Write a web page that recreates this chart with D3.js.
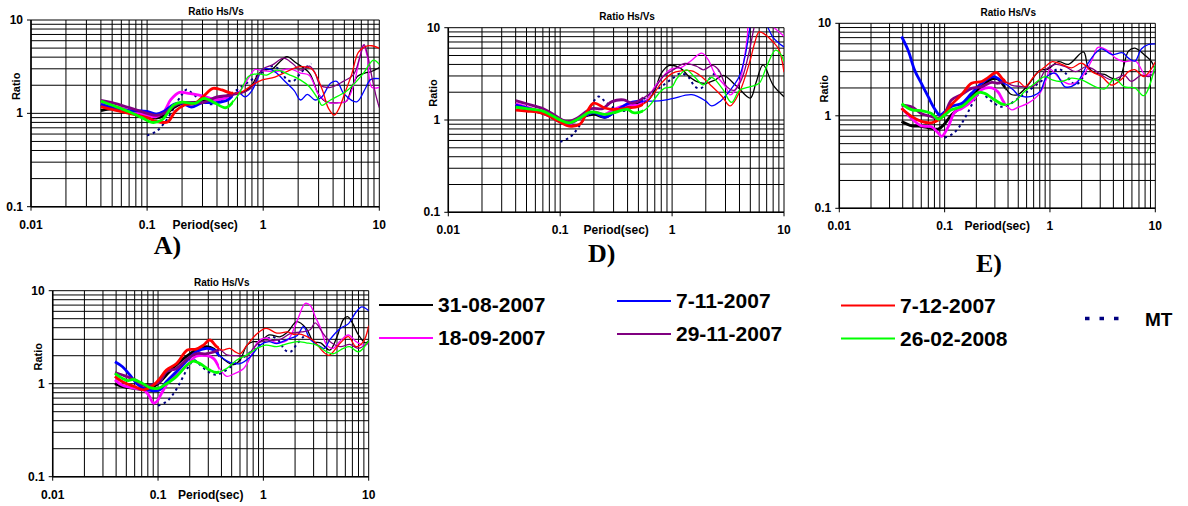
<!DOCTYPE html>
<html>
<head>
<meta charset="utf-8">
<script src="https://cdn.jsdelivr.net/npm/d3@7"></script>
<style>
  body { margin: 0; background: #fff; }
  svg { display: block; }
  text { font-family: "Liberation Sans", Arial, sans-serif; font-weight: bold; fill: #000; }
</style>
</head>
<body>
<svg id="chart" width="1188" height="506"></svg>
<script>
// ---- data: [period (sec), ratio Hs/Vs] ----
const seriesNames = ["31-08-2007", "18-09-2007", "7-11-2007", "29-11-2007", "7-12-2007", "26-02-2008"];
const seriesColors = ["#000000", "#ff00ff", "#0000ff", "#800080", "#ff0000", "#00ff00"];
const xTickLabels = ["0.01", "0.1", "1", "10"];
const yTickLabels = ["0.1", "1", "10"];

const mtValues = [[0.1,0.58],[0.12,0.64],[0.14,0.78],[0.16,1.0],[0.18,1.3],[0.2,1.6],[0.22,1.8],[0.25,1.6],[0.3,1.35],[0.35,1.25],[0.4,1.3],[0.5,1.55],[0.6,1.8],[0.8,2.3],[1.0,2.8],[1.2,3.2],[1.4,2.9],[1.6,2.3],[1.8,2.2],[2.1,2.7],[2.4,3.2],[2.6,3.4]];

// panel A
const A_black = [[0.04,1.07],[0.05,1.12],[0.065,1.05],[0.08,0.98],[0.1,0.93],[0.12,0.89],[0.14,0.95],[0.17,1.15],[0.2,1.28],[0.25,1.3],[0.3,1.35],[0.4,1.45],[0.5,1.55],[0.6,1.65],[0.7,1.72],[0.8,2.0],[0.9,2.6],[1.0,2.9],[1.2,3.0],[1.4,3.6],[1.6,4.05],[1.9,3.5],[2.5,2.7],[3.0,1.6],[3.5,1.33],[4.5,1.3],[5.2,1.35],[5.8,1.9],[6.5,2.5],[7.5,2.7],[8.5,2.8],[10,3.1]];
const A_magenta = [[0.04,1.3],[0.05,1.2],[0.07,1.08],[0.1,0.95],[0.12,0.92],[0.14,1.05],[0.16,1.4],[0.19,1.68],[0.22,1.65],[0.28,1.57],[0.35,1.45],[0.4,1.4],[0.5,1.5],[0.63,1.75],[0.75,2.4],[0.85,2.95],[1.0,2.85],[1.3,2.8],[1.7,3.0],[2.1,2.7],[2.5,2.55],[3.0,1.6],[3.7,1.3],[4.5,1.3],[5.2,1.35],[6.0,2.0],[6.8,4.0],[7.3,5.4],[7.9,4.0],[8.6,1.9],[10,1.9]];
const A_blue = [[0.04,1.25],[0.05,1.15],[0.07,1.07],[0.09,1.06],[0.1,1.05],[0.12,0.98],[0.14,1.05],[0.17,1.25],[0.2,1.28],[0.24,1.17],[0.3,1.3],[0.4,1.3],[0.5,1.4],[0.6,1.7],[0.7,1.5],[0.8,1.75],[0.9,2.4],[1.0,3.0],[1.2,2.9],[1.6,2.1],[1.85,1.75],[2.1,1.39],[2.4,1.6],[2.8,1.39],[3.2,1.5],[3.8,2.1],[4.3,2.2],[5.0,1.6],[6.4,1.33],[7.5,1.8],[8.4,2.3],[10,2.35]];
const A_purple = [[0.04,1.38],[0.05,1.3],[0.07,1.15],[0.1,1.0],[0.12,0.95],[0.14,1.0],[0.17,1.2],[0.2,1.3],[0.25,1.3],[0.3,1.3],[0.4,1.5],[0.5,1.55],[0.6,1.6],[0.7,1.7],[0.8,1.9],[0.9,2.5],[1.0,3.0],[1.2,3.3],[1.5,3.9],[1.8,3.4],[2.1,2.9],[2.5,3.2],[2.8,2.7],[3.1,2.0],[3.8,1.9],[4.9,2.2],[6.0,2.6],[6.8,4.0],[7.4,5.45],[7.9,4.3],[8.6,2.5],[9.3,1.6],[10,1.15]];
const A_red = [[0.04,1.18],[0.05,1.1],[0.07,1.0],[0.1,0.9],[0.12,0.82],[0.15,0.81],[0.175,1.05],[0.21,1.23],[0.26,1.28],[0.31,1.55],[0.37,1.85],[0.44,1.78],[0.53,1.65],[0.66,1.71],[0.8,2.0],[0.97,2.27],[1.26,2.45],[1.7,2.9],[2.0,3.15],[2.6,3.0],[3.2,1.85],[3.65,1.13],[4.1,0.96],[4.5,1.13],[5.1,1.71],[5.8,2.65],[6.6,4.5],[7.6,5.2],[8.6,5.3],[10,4.97]];
const A_green = [[0.04,1.35],[0.05,1.22],[0.07,1.04],[0.09,0.9],[0.11,0.8],[0.134,0.85],[0.17,1.23],[0.2,1.32],[0.26,1.28],[0.31,1.45],[0.38,1.3],[0.48,1.15],[0.61,1.57],[0.75,2.5],[0.9,2.65],[1.07,2.57],[1.31,2.9],[1.7,2.57],[2.1,2.27],[2.5,1.93],[3.0,1.39],[3.2,1.22],[3.8,1.39],[5.3,1.76],[7.3,2.69],[8.9,3.72],[10,3.35]];

// panel D
const D_black = [[0.04,1.4],[0.05,1.32],[0.07,1.18],[0.09,1.05],[0.1,1.0],[0.12,0.92],[0.15,1.05],[0.2,1.15],[0.25,1.07],[0.3,1.2],[0.4,1.4],[0.5,1.5],[0.6,1.6],[0.7,2.1],[0.8,3.2],[0.95,3.9],[1.2,3.6],[1.4,3.0],[1.67,2.6],[2.0,2.5],[2.4,2.7],[2.87,3.05],[3.8,2.3],[5.0,1.73],[5.6,2.5],[6.5,3.95],[8.0,2.39],[10,1.79]];
const D_magenta = [[0.04,1.5],[0.05,1.38],[0.07,1.22],[0.1,0.96],[0.12,0.9],[0.15,1.05],[0.2,1.22],[0.25,1.15],[0.3,1.3],[0.4,1.45],[0.5,1.45],[0.6,1.7],[0.7,2.3],[0.8,2.8],[0.9,3.3],[1.0,3.6],[1.2,3.7],[1.45,4.3],[1.84,5.3],[2.1,4.5],[2.4,3.2],[3.0,2.3],[3.3,1.87],[4.0,2.6],[4.4,4.5],[4.7,8],[5.0,14],[6.5,14],[7.5,11],[8.3,9.8],[10,8.1]];
const D_blue = [[0.04,1.45],[0.05,1.35],[0.07,1.2],[0.1,0.96],[0.12,0.92],[0.15,1.05],[0.2,1.2],[0.25,1.07],[0.3,1.2],[0.4,1.5],[0.5,1.6],[0.6,1.6],[0.8,1.62],[1.0,1.7],[1.5,1.88],[2.0,1.6],[2.25,1.42],[2.7,1.6],[3.2,2.0],[4.0,3.0],[4.5,5.0],[4.9,9.0],[5.2,13],[6.5,13],[7.2,10],[8.0,7.8],[9.0,6.8],[10,6.2]];
const D_purple = [[0.04,1.62],[0.05,1.5],[0.07,1.33],[0.09,1.12],[0.115,0.96],[0.14,1.04],[0.19,1.33],[0.24,1.33],[0.29,1.58],[0.37,1.65],[0.44,1.52],[0.55,1.72],[0.68,2.1],[0.84,3.0],[1.02,3.48],[1.3,4.1],[1.67,3.8],[1.9,3.5],[2.3,3.9],[2.6,3.5],[3.08,2.3],[3.6,2.1],[4.2,2.8],[4.8,5],[5.3,9],[5.7,14]];
const D_red = [[0.04,1.28],[0.05,1.25],[0.07,1.18],[0.1,0.95],[0.12,0.86],[0.15,0.9],[0.175,1.25],[0.2,1.52],[0.25,1.35],[0.3,1.3],[0.4,1.35],[0.5,1.4],[0.6,1.6],[0.7,2.0],[0.8,2.5],[1.0,3.2],[1.2,3.4],[1.5,3.4],[1.8,3.0],[2.2,2.4],[2.8,1.8],[3.3,1.42],[4.0,2.0],[5.0,4.5],[5.5,7.0],[6.0,9.0],[7.0,8.2],[8.0,7.0],[9.0,5.8],[10,3.3]];
const D_green = [[0.04,1.38],[0.05,1.33],[0.07,1.25],[0.1,1.0],[0.12,0.93],[0.15,1.05],[0.18,1.2],[0.2,1.22],[0.25,1.15],[0.3,1.2],[0.4,1.3],[0.45,1.2],[0.55,1.25],[0.65,1.5],[0.75,1.9],[0.85,2.2],[1.0,2.3],[1.1,2.8],[1.34,3.5],[1.6,2.9],[1.9,2.4],[2.25,2.9],[2.8,2.2],[3.4,1.55],[4.0,2.1],[5.0,2.3],[6.0,2.5],[7.0,3.8],[8.4,5.7],[9.3,5.2],[10,4.3]];

// panel E
const E_black = [[0.039,0.87],[0.049,0.78],[0.06,0.77],[0.075,0.73],[0.087,0.72],[0.1,0.82],[0.116,1.02],[0.145,1.26],[0.18,1.6],[0.225,2.07],[0.28,2.5],[0.32,2.5],[0.37,2.07],[0.43,1.7],[0.5,1.7],[0.62,2.15],[0.8,3.1],[0.96,3.2],[1.2,3.85],[1.5,3.6],[2.08,4.9],[2.3,3.4],[2.68,2.9],[3.3,2.8],[3.86,2.55],[4.5,2.45],[5.56,5.0],[6.4,5.4],[8.0,4.5],[9.2,3.85],[10,3.1]];
const E_magenta = [[0.039,1.22],[0.049,0.93],[0.06,0.78],[0.075,0.76],[0.087,0.65],[0.094,0.6],[0.108,0.76],[0.125,1.1],[0.145,1.2],[0.18,1.43],[0.225,1.92],[0.28,2.0],[0.32,1.82],[0.37,1.37],[0.434,1.16],[0.5,1.24],[0.62,1.37],[0.8,1.75],[0.93,2.55],[1.0,3.2],[1.29,2.4],[1.6,2.2],[2.0,2.6],[2.5,4.0],[2.86,5.5],[3.6,5.0],[4.2,4.2],[5.0,3.85],[6.5,3.9],[8.2,2.7],[10,3.3]];
const E_blue = [[0.039,7.2],[0.045,5.1],[0.052,3.1],[0.06,2.25],[0.07,1.6],[0.08,1.2],[0.09,1.02],[0.1,1.1],[0.116,1.26],[0.145,1.36],[0.18,1.75],[0.225,2.25],[0.29,2.65],[0.36,2.3],[0.45,1.9],[0.5,1.68],[0.62,1.6],[0.8,1.82],[0.93,2.65],[1.13,2.88],[1.39,2.06],[1.75,2.2],[2.3,3.7],[2.68,4.7],[3.1,5.3],[3.86,4.6],[4.9,4.8],[5.56,4.2],[6.4,3.9],[7.4,5.3],[8.6,5.9],[10,6.0]];
const E_purple = [[0.039,1.3],[0.049,1.24],[0.06,1.06],[0.075,0.98],[0.087,0.94],[0.1,1.06],[0.116,1.48],[0.145,1.7],[0.18,1.98],[0.225,2.07],[0.28,2.3],[0.32,2.25],[0.37,2.35],[0.43,2.15],[0.54,2.07],[0.68,2.07],[0.8,2.44],[0.9,3.1],[1.13,3.6],[1.4,3.4],[1.75,3.0],[2.2,3.4],[2.5,3.25],[3.1,2.75],[3.86,2.44],[4.5,2.6],[5.1,2.75],[5.9,2.35],[7.4,2.75],[8.6,2.65],[10,3.0]];
const E_red = [[0.039,1.2],[0.049,0.98],[0.06,0.87],[0.075,0.84],[0.087,0.9],[0.1,1.04],[0.116,1.32],[0.145,1.7],[0.18,2.25],[0.225,2.35],[0.26,2.6],[0.31,2.95],[0.35,2.55],[0.4,2.25],[0.5,2.35],[0.58,2.07],[0.72,2.75],[0.9,3.39],[1.05,3.85],[1.29,3.6],[1.6,3.3],[2.0,3.7],[2.5,3.0],[3.1,2.65],[3.86,2.15],[4.9,2.55],[5.56,3.0],[6.4,3.15],[7.8,2.66],[10,3.8]];
const E_green = [[0.039,1.35],[0.049,1.16],[0.06,1.14],[0.075,1.06],[0.087,0.92],[0.1,1.02],[0.116,1.16],[0.145,1.26],[0.18,1.55],[0.21,1.78],[0.24,1.75],[0.3,1.48],[0.37,1.32],[0.46,1.42],[0.58,1.85],[0.72,2.25],[0.9,2.65],[1.05,2.44],[1.29,2.35],[1.6,2.55],[2.0,2.44],[2.68,2.07],[3.3,1.95],[4.1,2.5],[5.1,2.05],[6.4,2.0],[7.8,1.65],[10,3.5]];

// lower panel
const B_black = [[0.039,1.0],[0.046,0.93],[0.06,0.89],[0.073,0.87],[0.09,0.93],[0.1,1.0],[0.12,1.24],[0.15,1.6],[0.19,2.0],[0.23,2.3],[0.29,2.5],[0.34,2.35],[0.39,1.97],[0.45,1.72],[0.52,1.6],[0.6,1.8],[0.7,2.6],[0.8,2.83],[0.93,2.83],[1.13,3.34],[1.45,3.2],[1.7,3.6],[2.08,4.65],[2.55,3.94],[3.0,2.83],[3.5,2.75],[4.27,2.3],[5.0,3.2],[5.75,4.9],[6.3,5.25],[7.0,4.5],[8.0,3.34],[9.3,2.75],[10,2.9]];
const B_magenta = [[0.039,1.1],[0.046,0.96],[0.06,0.89],[0.073,0.86],[0.083,0.73],[0.09,0.62],[0.097,0.64],[0.11,0.82],[0.13,1.1],[0.15,1.24],[0.19,1.6],[0.23,1.97],[0.29,2.0],[0.34,1.85],[0.39,1.42],[0.45,1.2],[0.52,1.27],[0.65,1.46],[0.76,1.97],[0.87,2.75],[1.06,3.1],[1.34,2.75],[1.7,2.95],[2.1,4.8],[2.5,7.3],[2.8,6.9],[3.1,5.3],[3.5,3.94],[4.0,2.6],[4.6,2.4],[5.4,2.9],[6.4,3.34],[7.6,2.83],[8.9,2.6],[10,2.7]];
const B_blue = [[0.039,1.72],[0.046,1.52],[0.054,1.24],[0.063,1.0],[0.073,0.89],[0.09,0.84],[0.104,0.86],[0.12,1.05],[0.15,1.35],[0.19,1.8],[0.23,2.2],[0.29,2.4],[0.34,2.3],[0.39,1.97],[0.48,1.7],[0.6,1.64],[0.76,1.97],[0.93,2.6],[1.13,2.83],[1.34,2.7],[1.7,3.0],[2.1,3.3],[2.4,4.1],[2.78,3.0],[3.5,2.5],[3.8,2.4],[4.3,3.0],[5.4,3.94],[6.4,4.4],[7.6,5.9],[8.6,6.7],[10,6.1]];
const B_purple = [[0.039,1.32],[0.046,1.24],[0.06,1.1],[0.073,0.96],[0.09,0.98],[0.104,1.05],[0.12,1.35],[0.15,1.46],[0.19,1.85],[0.23,2.1],[0.29,2.1],[0.34,2.2],[0.39,2.3],[0.45,2.04],[0.56,2.0],[0.7,1.97],[0.8,2.4],[0.93,2.8],[1.13,2.9],[1.45,3.0],[1.8,3.45],[2.3,3.6],[2.78,3.8],[3.1,4.5],[3.7,3.45],[4.3,2.83],[5.4,2.5],[6.6,2.65],[8.0,2.4],[10,2.8]];
const B_red = [[0.039,1.2],[0.046,1.05],[0.06,0.93],[0.073,0.86],[0.09,0.96],[0.104,1.14],[0.12,1.4],[0.15,1.65],[0.19,2.3],[0.23,2.35],[0.27,2.6],[0.31,2.95],[0.36,2.5],[0.41,2.3],[0.48,2.4],[0.54,2.2],[0.6,2.1],[0.7,2.6],[0.87,3.45],[1.06,3.94],[1.34,3.5],[1.7,3.6],[1.93,3.4],[2.3,3.4],[3.0,2.9],[3.7,2.2],[4.2,2.02],[5.4,2.75],[6.4,3.2],[7.6,2.5],[8.9,2.83],[10,4.2]];
const B_green = [[0.039,1.29],[0.046,1.14],[0.052,1.08],[0.058,1.11],[0.07,1.02],[0.085,0.9],[0.1,0.89],[0.12,1.0],[0.15,1.2],[0.19,1.6],[0.216,1.75],[0.25,1.65],[0.31,1.4],[0.36,1.32],[0.45,1.46],[0.56,1.8],[0.7,2.04],[0.87,2.4],[1.06,2.6],[1.34,2.5],[1.7,2.7],[2.1,2.83],[2.55,2.75],[3.2,2.6],[4.0,2.2],[4.6,2.1],[5.75,2.4],[6.6,2.5],[8.0,2.2],[10,2.9]];

// ---- layout ----
const svg = d3.select("#chart");
svg.append("rect").attr("width", 1188).attr("height", 506).attr("fill", "#fff");
const defs = svg.append("defs");

const panels = [
  {left: 31, right: 379.3, top: 20, bottom: 206.7, titleY: 15, split: 0.55,
   series: [A_black, A_magenta, A_blue, A_purple, A_red, A_green], label: "A)", labelX: 167.5, labelY: 254},
  {left: 448.3, right: 784, top: 27.7, bottom: 212.3, titleY: 19.5, split: 0.55,
   series: [D_black, D_magenta, D_blue, D_purple, D_red, D_green], label: "D)", labelX: 601.7, labelY: 262},
  {left: 839.3, right: 1155.3, top: 23.3, bottom: 208.3, titleY: 16, split: 0.38,
   series: [E_black, E_magenta, E_blue, E_purple, E_red, E_green], label: "E)", labelX: 989, labelY: 272},
  {left: 52.7, right: 368.7, top: 290.7, bottom: 476.7, titleY: 286, split: 0.38,
   series: [B_black, B_magenta, B_blue, B_purple, B_red, B_green], label: null}
];

function drawPanel(p, idx) {
  const g = svg.append("g");
  const x = d3.scaleLog().domain([0.01, 10]).range([p.left, p.right]);
  const y = d3.scaleLog().domain([0.1, 10]).range([p.bottom, p.top]);

  // grid
  g.selectAll(".vgrid").data(x.ticks()).join("line")
    .attr("x1", d => x(d)).attr("x2", d => x(d))
    .attr("y1", p.top).attr("y2", p.bottom)
    .attr("stroke", "#000").attr("stroke-width", 1);
  g.selectAll(".hgrid").data(y.ticks()).join("line")
    .attr("x1", p.left).attr("x2", p.right)
    .attr("y1", d => y(d)).attr("y2", d => y(d))
    .attr("stroke", "#000").attr("stroke-width", 1);

  // major ticks and labels
  xTickLabels.forEach(t => {
    const v = +t;
    g.append("line").attr("x1", x(v)).attr("x2", x(v)).attr("y1", p.bottom).attr("y2", p.bottom + 4)
      .attr("stroke", "#000");
    g.append("text").attr("x", x(v)).attr("y", p.bottom + 22).attr("text-anchor", "middle")
      .style("font-size", "12px").text(t);
  });
  yTickLabels.forEach(t => {
    const v = +t;
    g.append("line").attr("x1", p.left - 4).attr("x2", p.left).attr("y1", y(v)).attr("y2", y(v))
      .attr("stroke", "#000");
    g.append("text").attr("x", p.left - 8).attr("y", y(v) + 4).attr("text-anchor", "end")
      .style("font-size", "12px").text(t);
  });
  g.append("line").attr("x1", p.left).attr("x2", p.left).attr("y1", p.top).attr("y2", p.bottom)
    .attr("stroke", "#000").attr("stroke-width", 1.5);
  g.append("line").attr("x1", p.left).attr("x2", p.right).attr("y1", p.bottom).attr("y2", p.bottom)
    .attr("stroke", "#000").attr("stroke-width", 1.5);

  // titles
  const cx = (p.left + p.right) / 2;
  g.append("text").attr("x", cx + 11).attr("y", p.titleY).attr("text-anchor", "middle")
    .style("font-size", "10px").text("Ratio Hs/Vs");
  g.append("text").attr("x", cx).attr("y", p.bottom + 22).attr("text-anchor", "middle")
    .style("font-size", "12px").text("Period(sec)");
  const ry = (p.top + p.bottom) / 2 - 27;
  g.append("text").attr("transform", `translate(${p.left - 11},${ry}) rotate(-90)`)
    .attr("text-anchor", "middle").style("font-size", "11px").text("Ratio");
  if (p.label) {
    g.append("text").attr("x", p.labelX).attr("y", p.labelY).attr("text-anchor", "middle")
      .style("font-family", "'Liberation Serif', 'Times New Roman', serif")
      .style("font-size", "26px").text(p.label);
  }

  // clip regions: thick low-period band, thin high-period band
  const xs = x(p.split);
  defs.append("clipPath").attr("id", `all${idx}`).append("rect")
    .attr("x", p.left).attr("y", p.top).attr("width", p.right - p.left).attr("height", p.bottom - p.top);
  defs.append("clipPath").attr("id", `lo${idx}`).append("rect")
    .attr("x", p.left).attr("y", p.top).attr("width", xs - p.left).attr("height", p.bottom - p.top);
  defs.append("clipPath").attr("id", `hi${idx}`).append("rect")
    .attr("x", xs).attr("y", p.top).attr("width", p.right - xs).attr("height", p.bottom - p.top);

  const line = d3.line().x(d => x(d[0])).y(d => y(d[1])).curve(d3.curveCatmullRom.alpha(0.5));

  g.append("path").attr("d", line(mtValues)).attr("fill", "none")
    .attr("stroke", "#000080").attr("stroke-width", 2).attr("stroke-dasharray", "2.5,3.5")
    .attr("clip-path", `url(#all${idx})`);

  p.series.forEach((s, i) => {
    g.append("path").attr("d", line(s)).attr("fill", "none")
      .attr("stroke", seriesColors[i]).attr("stroke-width", 2.8)
      .attr("stroke-linejoin", "round").attr("clip-path", `url(#lo${idx})`);
    g.append("path").attr("d", line(s)).attr("fill", "none")
      .attr("stroke", seriesColors[i]).attr("stroke-width", 1.3)
      .attr("stroke-linejoin", "round").attr("clip-path", `url(#hi${idx})`);
  });
}

panels.forEach(drawPanel);

// ---- legend ----
const legendColX = [379, 617, 841];
const legendColDy = [0, -4, 0.5];
const legendRowY = [305, 338];
const legend = svg.append("g");
seriesNames.forEach((name, i) => {
  const col = Math.floor(i / 2), row = i % 2;
  const lx = legendColX[col];
  const ly = legendRowY[row] + legendColDy[col];
  legend.append("line").attr("x1", lx).attr("x2", lx + 54).attr("y1", ly).attr("y2", ly)
    .attr("stroke", seriesColors[i]).attr("stroke-width", 2);
  legend.append("text").attr("x", lx + 59).attr("y", ly + 7).style("font-size", "21px").text(name);
});
legend.append("line").attr("x1", 1085).attr("x2", 1128).attr("y1", 318.5).attr("y2", 318.5)
  .attr("stroke", "#000080").attr("stroke-width", 3.5).attr("stroke-dasharray", "4.5,10");
legend.append("text").attr("x", 1145).attr("y", 325.5).style("font-size", "19px").text("MT");
</script>
</body>
</html>
